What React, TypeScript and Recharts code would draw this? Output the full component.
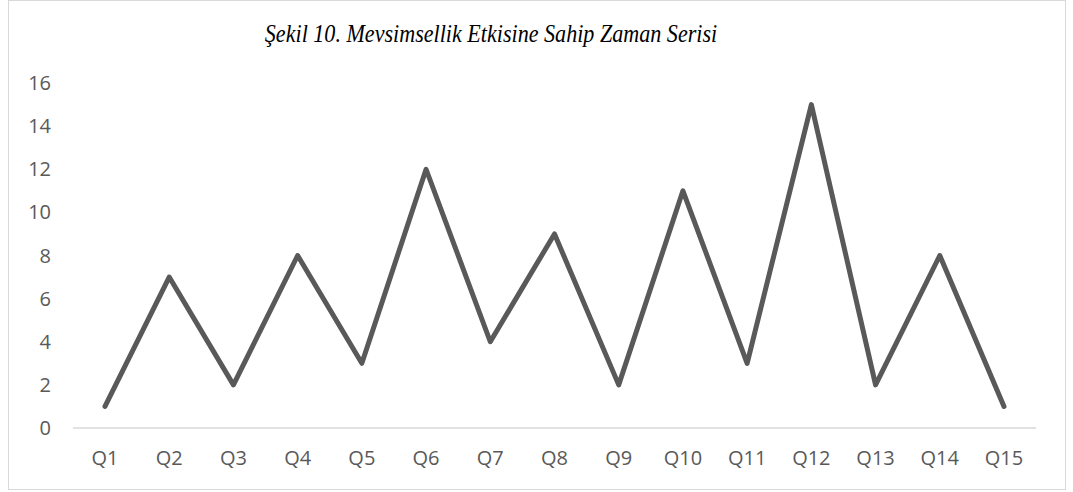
import React from "react";
import { LineChart, Line, XAxis, YAxis } from "recharts";

const categories = ["Q1","Q2","Q3","Q4","Q5","Q6","Q7","Q8","Q9","Q10","Q11","Q12","Q13","Q14","Q15"];
const values = [1, 7, 2, 8, 3, 12, 4, 9, 2, 11, 3, 15, 2, 8, 1];
const yTicks = [0, 2, 4, 6, 8, 10, 12, 14, 16];
const title = "Şekil 10. Mevsimsellik Etkisine Sahip Zaman Serisi";

const data = categories.map((c, i) => ({ name: c, value: values[i] }));

const tickStyle = { fill: "#595959", fontSize: 20, fontFamily: "'Open Sans', sans-serif" };

export default function App() {
  return (
    <div style={{ position: "absolute", left: 8, top: 0, width: 1058, height: 490, boxSizing: "border-box", border: "1px solid #d9d9d9", background: "#fff" }}>
      <div style={{ position: "absolute", left: 0, width: 964, top: 18, textAlign: "center", fontFamily: "'Liberation Serif', 'Times New Roman', serif", fontStyle: "italic", fontSize: 26, color: "#000", lineHeight: "30px", whiteSpace: "nowrap", transform: "scaleX(0.85)", transformOrigin: "50% 50%" }}>
        {title}
      </div>
      <LineChart width={1056} height={488} data={data} margin={{ top: 82, right: 29, bottom: 0, left: 0 }}>
        <XAxis
          dataKey="name"
          height={61}
          padding={{ left: 32, right: 32 }}
          axisLine={{ stroke: "#d9d9d9", strokeWidth: 1.5 }}
          tickLine={false}
          tickSize={0}
          tickMargin={23}
          tick={tickStyle}
          interval={0}
        />
        <YAxis
          width={64}
          domain={[0, 16]}
          ticks={yTicks}
          axisLine={false}
          tickLine={false}
          tickSize={0}
          tickMargin={22}
          tick={tickStyle}
        />
        <Line
          type="linear"
          dataKey="value"
          stroke="#595959"
          strokeWidth={5}
          strokeLinecap="round"
          strokeLinejoin="round"
          dot={false}
          activeDot={false}
          isAnimationActive={false}
        />
      </LineChart>
    </div>
  );
}
